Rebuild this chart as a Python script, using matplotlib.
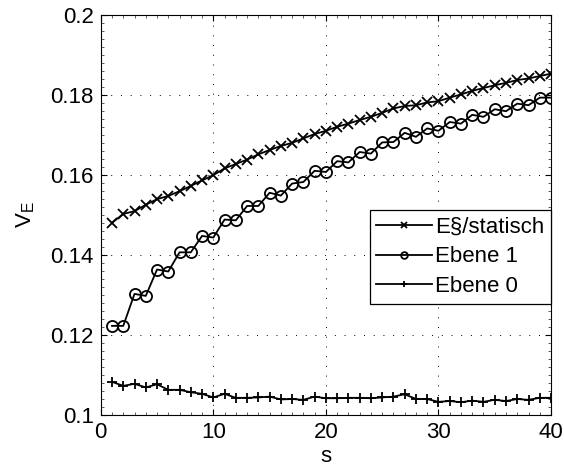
import matplotlib
matplotlib.use("Agg")
import matplotlib.pyplot as plt
from matplotlib.ticker import MultipleLocator

plt.rcParams['font.family'] = ['Liberation Sans', 'DejaVu Sans']
plt.rcParams['mathtext.default'] = 'regular'

s = list(range(1, 41))

statisch = [0.1481, 0.1503, 0.1510, 0.1526, 0.1540, 0.1548, 0.1560, 0.1573, 0.1587, 0.1600,
            0.1617, 0.1628, 0.1639, 0.1652, 0.1663, 0.1673, 0.1681, 0.1692, 0.1703, 0.1711,
            0.1721, 0.1729, 0.1738, 0.1746, 0.1756, 0.1767, 0.1773, 0.1775, 0.1782, 0.1785,
            0.1794, 0.1802, 0.1811, 0.1818, 0.1825, 0.1831, 0.1838, 0.1842, 0.1848, 0.1854]

ebene1 = [0.1223, 0.1223, 0.1303, 0.1298, 0.1364, 0.1359, 0.1407, 0.1407, 0.1448, 0.1444,
          0.1489, 0.1487, 0.1523, 0.1523, 0.1556, 0.1549, 0.1579, 0.1583, 0.1611, 0.1608,
          0.1635, 0.1632, 0.1658, 0.1654, 0.1682, 0.1683, 0.1706, 0.1696, 0.1717, 0.1711,
          0.1733, 0.1729, 0.1751, 0.1746, 0.1765, 0.1760, 0.1779, 0.1775, 0.1794, 0.1794]

ebene0 = [0.1083, 0.1073, 0.1078, 0.1069, 0.1077, 0.1063, 0.1063, 0.1057, 0.1053, 0.1044,
          0.1053, 0.1043, 0.1043, 0.1044, 0.1046, 0.1039, 0.1040, 0.1038, 0.1046, 0.1042,
          0.1042, 0.1043, 0.1043, 0.1042, 0.1044, 0.1046, 0.1052, 0.1040, 0.1040, 0.1033,
          0.1035, 0.1032, 0.1036, 0.1033, 0.1038, 0.1035, 0.1040, 0.1038, 0.1043, 0.1043]

labels = ['E§/statisch', 'Ebene 1', 'Ebene 0']
xticks = [0, 10, 20, 30, 40]
yticks = [0.1, 0.12, 0.14, 0.16, 0.18, 0.2]
ytick_labels = ['0.1', '0.12', '0.14', '0.16', '0.18', '0.2']

fig = plt.figure(figsize=(5.64, 4.69), dpi=100)
ax = fig.add_axes([0.1786, 0.1151, 0.7984, 0.8523])

lw = 1.3
ax.plot(s, statisch, color='black', lw=lw, marker='x', ms=6.5, mew=1.3, label=labels[0])
ax.plot(s, ebene1, color='black', lw=lw, marker='o', ms=8, mfc='none', mew=1.3, label=labels[1])
ax.plot(s, ebene0, color='black', lw=lw, marker='+', ms=7, mew=1.3, label=labels[2])

ax.set_xlim(0, 40)
ax.set_ylim(0.1, 0.2)
ax.set_xticks(xticks)
ax.set_yticks(yticks)
ax.set_yticklabels(ytick_labels)
ax.xaxis.set_minor_locator(MultipleLocator(1))
ax.yaxis.set_minor_locator(MultipleLocator(0.002))
ax.tick_params(which='major', direction='in', top=True, right=True, labelsize=16,
               length=4, width=0.8, pad=5)
ax.tick_params(which='minor', direction='in', top=True, right=True, length=2, width=0.6,
               color='#444444')
ax.grid(True, which='major', color='black', linestyle=(0, (1, 9)), linewidth=0.7)
for sp in ax.spines.values():
    sp.set_linewidth(0.8)

ax.set_xlabel('s', fontsize=16, labelpad=2)
ax.set_ylabel('V$_E$', fontsize=16, labelpad=10)

leg = ax.legend(loc='upper right', bbox_to_anchor=(1.0, 0.512), fontsize=16, frameon=True,
                fancybox=False, edgecolor='black', framealpha=1, markerscale=0.6,
                handlelength=2.5, handletextpad=0.15, borderpad=0.3, labelspacing=0.38,
                borderaxespad=0.0)
leg.get_frame().set_linewidth(0.9)

fig.savefig('out.png', dpi=100)
